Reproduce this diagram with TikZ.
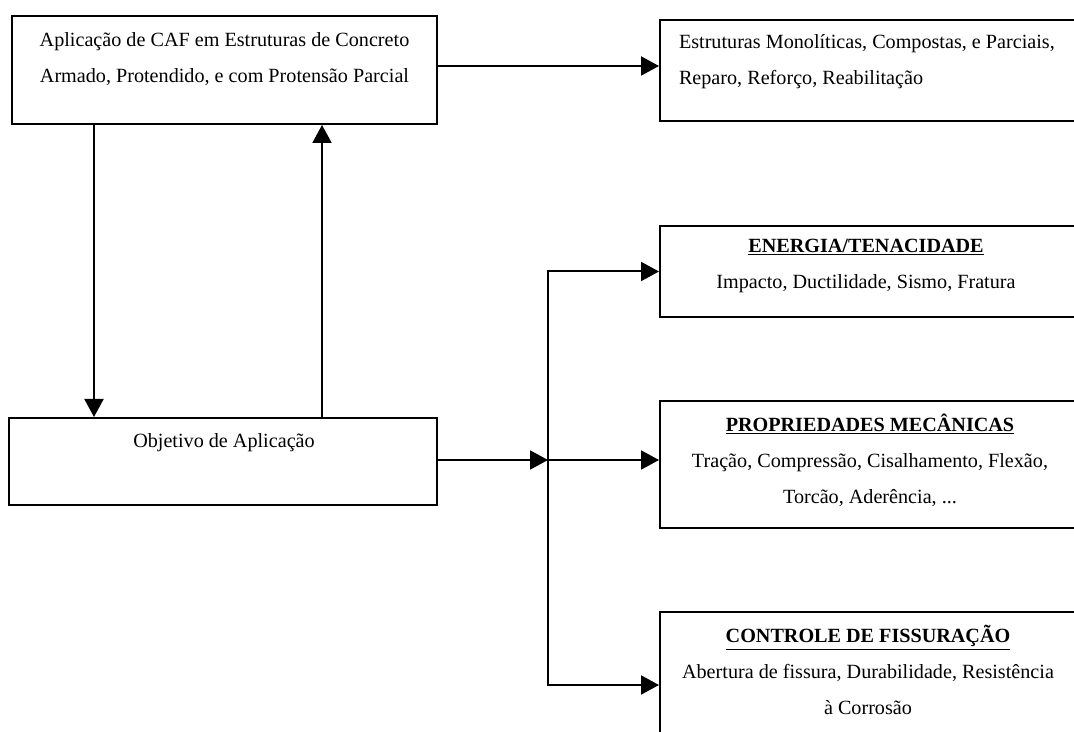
\documentclass[tikz,border=0pt]{standalone}
\usepackage{fontspec}
\setmainfont{Liberation Serif}
\usetikzlibrary{arrows.meta}

\begin{document}
\begin{tikzpicture}[x=0.6pt, y=-0.6pt, >={Triangle[length=10.8pt,width=11.4pt]}, line width=1.2pt,
    box/.style={draw, rectangle, line width=1.2pt, inner sep=0pt},
    txt/.style={inner sep=0pt, align=center, font=\fontsize{12.1}{21.6}\selectfont}]

    \useasboundingbox (0,0) rectangle (1074,732);

    \node[box, minimum width=255pt, minimum height=64.8pt] (caf) at (224.5,70) {};
    \node[box, minimum width=256.8pt, minimum height=52.2pt] (obj) at (223,461.5) {};
    \node[box, minimum width=249.6pt, minimum height=60.6pt] (estr) at (868,70.5) {};
    \node[box, minimum width=249.6pt, minimum height=54.6pt] (ener) at (868,271.5) {};
    \node[box, minimum width=249.6pt, minimum height=76.2pt] (prop) at (868,464.5) {};
    \node[box, minimum width=249.6pt, minimum height=87.6pt] (fiss) at (868,685) {};

    \node[txt] (caftxt) at (224.5,59) {Aplicação de CAF em Estruturas de Concreto\\Armado, Protendido, e com Protensão Parcial};
    \node[txt] (objtxt) at (224,443) {Objetivo de Aplicação};
    \node[txt, align=left, anchor=west] (estrtxt) at (678,62) {Estruturas Monolíticas, Compostas, e Parciais,\\Reparo, Reforço, Reabilitação};
    \node[txt] (enertxt) at (866,265.5) {\underline{\textbf{ENERGIA/TENACIDADE}}\\Impacto, Ductilidade, Sismo, Fratura};
    \node[txt] (proptxt) at (870,460) {\underline{\textbf{PROPRIEDADES MECÂNICAS}}\\Tração, Compressão, Cisalhamento, Flexão,\\Torcão, Aderência, ...};
    \node[txt] (fisstxt) at (868,670) {\underline{\textbf{CONTROLE DE FISSURAÇÃO}}\\Abertura de fissura, Durabilidade, Resistência\\à Corrosão};

    \coordinate (jn) at (548,460);

    \draw[->] (caf.east |- 0,66) -- (estr.west |- 0,66);
    \draw[->] (94,0 |- caf.south) -- (94,0 |- obj.north);
    \draw[->] (322,0 |- obj.north) -- (322,0 |- caf.south);
    \draw[->] (obj.east |- jn) -- (jn);
    \draw[->] (jn) -- (jn -| prop.west);
    \draw[->] (jn) |- (ener.west);
    \draw[->] (jn) |- (fiss.west);
\end{tikzpicture}
\end{document}
